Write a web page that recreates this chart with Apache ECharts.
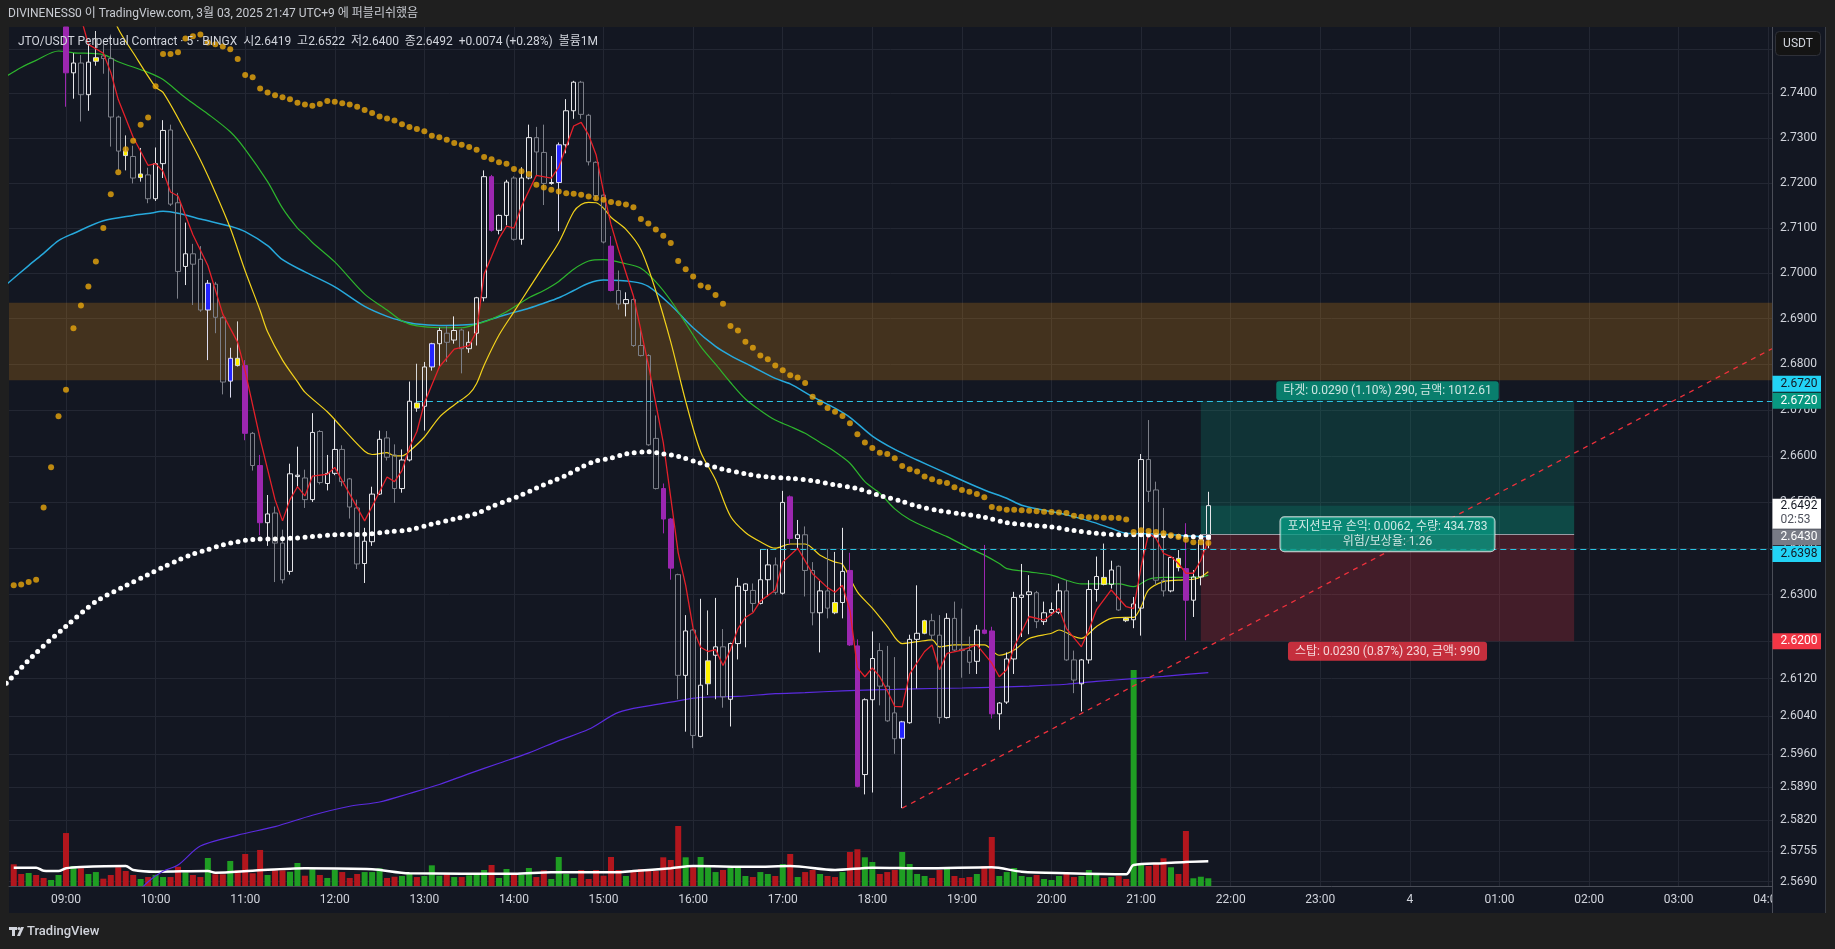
<!DOCTYPE html>
<html><head><meta charset="utf-8">
<script src="https://cdn.jsdelivr.net/npm/echarts@6/dist/echarts.min.js"></script>
<style>html,body{margin:0;padding:0;background:#1f1f1f;}#c{width:1835px;height:949px;}</style>
</head><body><div id="c"></div>
<script>
// ---------- DATA (5-minute candles, k = index from 09:00; first candle k=-7 = 08:25) ----------
const firstK = -7;
const open = [2.7850,2.7780,2.7720,2.7760,2.7700,2.7650,2.7680,
2.7700,2.7446,2.7468,2.7397,2.7472,2.7484,2.7478,2.7347,2.7271,2.7259,
2.7212,2.7218,2.7165,2.7243,2.7318,2.7156,2.7015,2.7043,2.7031,2.6919,
2.6976,2.6902,2.6763,2.6813,2.6797,2.6649,2.6579,2.6455,2.6476,2.6411,
2.6350,2.6555,2.6552,2.6505,2.6653,2.6540,2.6562,2.6614,2.6550,2.6487,
2.6367,2.6414,2.6517,2.6639,2.6602,2.6529,2.6591,2.6715,2.6708,2.6794,
2.6845,2.6868,2.6853,2.6875,2.6834,2.6868,2.6946,2.7214,2.7095,2.7128,
2.7211,2.7075,2.7211,2.7301,2.7268,2.7199,2.7201,2.7285,2.7361,2.7425,
2.7351,2.7246,2.7173,2.7060,2.6962,2.6933,2.6942,2.6841,2.6819,2.6638,
2.6529,2.6463,2.6343,2.6127,2.6224,2.5997,2.6109,2.6170,2.6188,2.6076,
2.6195,2.6309,2.6309,2.6281,2.6332,2.6364,2.6303,2.6511,2.6421,2.6429,
2.6352,2.6261,2.6308,2.6283,2.6283,2.6352,2.6190,2.5916,2.6075,2.6180,
2.6104,2.6047,2.5993,2.6026,2.6204,2.6217,2.6244,2.6213,2.6037,2.6249,
2.6183,2.6180,2.6157,2.6224,2.6222,2.6045,2.6070,2.6162,2.6294,2.6300,
2.6304,2.6242,2.6261,2.6262,2.6308,2.6160,2.6109,2.6160,2.6311,2.6337,
2.6322,2.6361,2.6249,2.6246,2.6271,2.6592,2.6526,2.6331,2.6308,2.6378,
2.6356,2.6288,2.6338,2.6419];
const high = [2.7880,2.7810,2.7790,2.7780,2.7720,2.7700,2.7740,
2.7720,2.7490,2.7486,2.7510,2.7540,2.7520,2.7532,2.7350,2.7306,2.7283,
2.7278,2.7234,2.7279,2.7340,2.7330,2.7178,2.7112,2.7065,2.7060,2.6985,
2.6981,2.6905,2.6836,2.6894,2.6809,2.6652,2.6602,2.6515,2.6490,2.6440,
2.6583,2.6620,2.6570,2.6693,2.6656,2.6602,2.6678,2.6623,2.6552,2.6505,
2.6444,2.6533,2.6655,2.6654,2.6625,2.6614,2.6762,2.6801,2.6805,2.6847,
2.6880,2.6883,2.6905,2.6878,2.6872,2.6948,2.7228,2.7218,2.7130,2.7207,
2.7215,2.7235,2.7330,2.7325,2.7330,2.7260,2.7290,2.7387,2.7428,2.7428,
2.7354,2.7248,2.7176,2.7082,2.7006,2.6958,2.6945,2.6875,2.6822,2.6688,
2.6540,2.6465,2.6345,2.6256,2.6226,2.6291,2.6266,2.6293,2.6226,2.6197,
2.6336,2.6324,2.6324,2.6398,2.6398,2.6380,2.6524,2.6514,2.6461,2.6447,
2.6370,2.6330,2.6398,2.6392,2.6444,2.6390,2.6204,2.6078,2.6221,2.6196,
2.6190,2.6166,2.6030,2.6214,2.6320,2.6246,2.6259,2.6256,2.6260,2.6285,
2.6270,2.6210,2.6235,2.6407,2.6231,2.6070,2.6176,2.6306,2.6366,2.6342,
2.6308,2.6285,2.6283,2.6324,2.6331,2.6180,2.6162,2.6331,2.6382,2.6410,
2.6373,2.6363,2.6251,2.6295,2.6604,2.6678,2.6544,2.6487,2.6382,2.6396,
2.6454,2.6353,2.6430,2.6522];
const low = [2.7760,2.7700,2.7690,2.7680,2.7630,2.7620,2.7650,
2.7370,2.7388,2.7337,2.7361,2.7462,2.7444,2.7281,2.7228,2.7228,2.7199,
2.7203,2.7155,2.7160,2.7211,2.7149,2.6944,2.6974,2.6930,2.6915,2.6809,
2.6868,2.6734,2.6727,2.6795,2.6634,2.6568,2.6428,2.6405,2.6327,2.6324,
2.6343,2.6533,2.6487,2.6500,2.6538,2.6525,2.6558,2.6534,2.6464,2.6355,
2.6325,2.6405,2.6515,2.6590,2.6498,2.6520,2.6588,2.6696,2.6655,2.6786,
2.6794,2.6805,2.6845,2.6780,2.6825,2.6841,2.6938,2.7092,2.7086,2.7106,
2.7072,2.7063,2.7208,2.7215,2.7151,2.7196,2.7093,2.7266,2.7343,2.7343,
2.7239,2.7162,2.7066,2.6960,2.6920,2.6905,2.6838,2.6817,2.6622,2.6527,
2.6432,2.6332,2.6076,2.6007,2.5972,2.5995,2.6085,2.6076,2.6058,2.6018,
2.6161,2.6187,2.6263,2.6279,2.6296,2.6300,2.6300,2.6409,2.6398,2.6296,
2.6234,2.6176,2.6249,2.6258,2.6249,2.6190,2.5889,2.5874,2.5878,2.6063,
2.6028,2.5960,2.5845,2.6024,2.6099,2.6215,2.6202,2.6024,2.6035,2.6179,
2.6122,2.6130,2.6130,2.6215,2.6035,2.6011,2.6066,2.6130,2.6209,2.6215,
2.6228,2.6235,2.6255,2.6258,2.6158,2.6089,2.6050,2.6152,2.6285,2.6320,
2.6313,2.6265,2.6241,2.6228,2.6212,2.6500,2.6321,2.6296,2.6305,2.6350,
2.6202,2.6252,2.6320,2.6400];
const close = [2.7780,2.7720,2.7760,2.7700,2.7650,2.7680,2.7710,
2.7446,2.7468,2.7397,2.7470,2.7480,2.7478,2.7347,2.7271,2.7261,2.7211,
2.7220,2.7165,2.7243,2.7317,2.7153,2.7004,2.7043,2.7020,2.6919,2.6978,
2.6903,2.6761,2.6813,2.6797,2.6649,2.6579,2.6455,2.6474,2.6411,2.6332,
2.6561,2.6558,2.6505,2.6651,2.6542,2.6562,2.6614,2.6544,2.6489,2.6366,
2.6415,2.6517,2.6636,2.6597,2.6529,2.6591,2.6719,2.6704,2.6794,2.6845,
2.6874,2.6848,2.6874,2.6834,2.6848,2.6946,2.7214,2.7095,2.7128,2.7202,
2.7075,2.7211,2.7301,2.7269,2.7199,2.7201,2.7285,2.7361,2.7425,2.7353,
2.7247,2.7172,2.7069,2.6962,2.6932,2.6942,2.6841,2.6819,2.6624,2.6529,
2.6463,2.6357,2.6127,2.6222,2.5999,2.6106,2.6158,2.6188,2.6081,2.6195,
2.6318,2.6323,2.6281,2.6332,2.6364,2.6305,2.6499,2.6421,2.6429,2.6352,
2.6261,2.6308,2.6271,2.6261,2.6350,2.6192,2.5891,2.6075,2.6163,2.6104,
2.6030,2.5992,2.6028,2.6204,2.6217,2.6244,2.6213,2.6037,2.6249,2.6181,
2.6180,2.6155,2.6224,2.6217,2.6045,2.6068,2.6162,2.6294,2.6299,2.6306,
2.6242,2.6261,2.6268,2.6308,2.6160,2.6117,2.6160,2.6311,2.6339,2.6322,
2.6353,2.6267,2.6244,2.6280,2.6592,2.6523,2.6331,2.6308,2.6380,2.6358,
2.6288,2.6338,2.6418,2.6492];
// volume, millions
const volume = [2.78,1.54,1.67,1.41,1.03,0.77,1.41,
6.79,2.56,2.27,1.54,1.79,0.94,1.41,2.40,1.92,1.41,
0.90,1.15,1.41,1.15,1.15,2.47,1.76,1.41,1.15,3.59,
1.50,1.50,3.21,2.01,4.10,1.63,4.62,1.41,2.01,2.01,
1.83,2.95,1.32,2.14,1.41,1.03,2.05,1.79,1.03,1.54,
1.79,1.79,2.27,1.03,1.19,1.28,1.58,1.15,1.28,2.65,
1.32,1.50,1.15,1.15,1.37,1.41,2.05,2.69,1.03,2.18,
1.41,1.41,2.31,1.15,2.01,0.90,3.72,1.54,1.03,2.05,
0.90,2.05,1.32,3.72,2.05,1.28,1.79,2.18,2.18,1.92,
3.68,3.33,7.69,3.68,2.40,3.72,2.40,1.79,2.05,2.31,
2.56,1.28,1.15,1.79,1.54,1.28,2.82,4.10,1.15,1.79,
2.05,1.54,1.28,1.15,1.79,4.36,4.71,3.68,3.08,1.54,
1.79,2.05,4.36,2.82,1.54,1.28,1.03,2.05,2.31,1.28,
1.03,1.15,1.54,2.56,6.28,1.28,1.79,2.31,1.28,1.15,
1.41,0.90,0.77,1.28,1.79,1.15,1.28,2.05,1.54,1.03,
1.15,1.28,0.90,27.69,2.91,2.56,2.91,3.55,2.40,1.54,
7.05,0.99,1.19,0.99];
// candles highlighted by the volume-colouring script (k values)
const purpleK = [0,24,26,57,73,80,81,97,105,106,123,124,150];
const blueK = [19,22,49,66,112];
const yellowK = [4,8,10,23,47,86,103,115,139,142,149];
// one gold dot per candle
const goldDots = [2.6320,2.6322,2.6327,2.6332,2.6488,2.6575,2.6686,
2.6744,2.6879,2.6929,2.6971,2.7026,2.7100,2.7175,2.7224,2.7275,2.7294,
2.7330,2.7346,2.7416,2.7488,2.7488,2.7492,2.7523,2.7528,2.7532,2.7514,
2.7510,2.7505,2.7499,2.7477,2.7441,2.7436,2.7411,2.7402,2.7396,2.7391,
2.7387,2.7379,2.7375,2.7372,2.7376,2.7383,2.7381,2.7378,2.7375,2.7370,
2.7363,2.7356,2.7348,2.7344,2.7339,2.7331,2.7325,2.7320,2.7315,2.7305,
2.7302,2.7296,2.7289,2.7285,2.7280,2.7274,2.7258,2.7253,2.7246,2.7243,
2.7231,2.7226,2.7220,2.7196,2.7190,2.7185,2.7181,2.7177,2.7176,2.7174,
2.7170,2.7166,2.7163,2.7158,2.7155,2.7152,2.7146,2.7120,2.7110,2.7097,
2.7083,2.7067,2.7027,2.7009,2.6993,2.6973,2.6969,2.6952,2.6933,2.6884,
2.6874,2.6849,2.6836,2.6819,2.6811,2.6797,2.6787,2.6776,2.6771,2.6759,
2.6729,2.6716,2.6704,2.6696,2.6687,2.6671,2.6647,2.6629,2.6617,2.6607,
2.6604,2.6595,2.6578,2.6571,2.6566,2.6555,2.6549,2.6544,2.6541,2.6532,
2.6526,2.6522,2.6517,2.6510,2.6489,2.6486,2.6483,2.6483,2.6482,2.6481,
2.6480,2.6479,2.6478,2.6477,2.6476,2.6470,2.6468,2.6467,2.6467,2.6466,
2.6466,2.6465,2.6462,2.6435,2.6439,2.6437,2.6435,2.6432,2.6428,2.6424,
2.6418,2.6413,2.6413,2.6411];
// moving-average lines read at sample candles: [k, price]
const maRed = [[-7,2.790],[-3,2.775],[0,2.768],[2,2.757],[3,2.751],[5,2.749],[6,2.7447],[7,2.7386],[9,2.7302],[11,2.7239],[12,2.7243],[13,2.7226],[14,2.718],[15,2.7171],[17,2.7085],[19,2.7017],[21,2.6910],[23,2.6848],[24,2.6785],[26,2.6637],[28,2.6505],[29,2.6459],[30,2.6505],[31,2.6533],[32,2.6513],[33,2.6556],[35,2.6560],[36,2.6575],[38,2.6517],[40,2.6459],[41,2.6490],[43,2.6554],[44,2.6544],[45,2.6568],[46,2.6618],[47,2.6653],[48,2.6715],[50,2.6794],[52,2.6833],[54,2.6841],[55,2.6872],[56,2.6998],[57,2.7037],[58,2.7077],[59,2.7104],[60,2.7100],[61,2.7148],[63,2.7217],[65,2.7211],[66,2.7235],[68,2.7327],[69,2.7335],[70,2.7307],[71,2.7263],[72,2.7180],[73,2.7108],[74,2.7052],[76,2.6950],[78,2.6799],[80,2.6629],[82,2.6390],[83,2.6320],[84,2.6227],[85,2.6187],[86,2.6178],[87,2.6182],[88,2.6148],[89,2.6182],[90,2.6227],[91,2.6251],[92,2.6261],[93,2.6286],[95,2.6310],[96,2.6370],[98,2.6400],[100,2.6345],[102,2.6315],[103,2.6305],[104,2.6320],[105,2.6266],[106,2.6143],[107,2.6124],[108,2.6143],[109,2.6124],[110,2.6094],[111,2.6061],[112,2.6060],[113,2.6130],[115,2.6178],[116,2.6192],[117,2.6139],[118,2.6174],[120,2.6181],[122,2.6192],[124,2.6153],[125,2.6124],[126,2.6139],[127,2.6188],[129,2.6253],[131,2.6245],[133,2.6270],[134,2.6227],[136,2.6188],[137,2.6224],[138,2.6267],[140,2.6310],[142,2.6274],[143,2.6270],[144,2.6360],[145,2.6432],[146,2.6421],[147,2.6389],[148,2.6382],[149,2.6367],[150,2.6346],[151,2.6346],[152,2.6374],[153,2.6417]];
const maYellow = [[0,2.780],[7,2.7545],[9,2.7491],[12,2.7414],[13,2.7402],[16,2.7314],[18,2.7251],[20,2.7179],[22,2.7100],[24,2.7005],[26,2.6918],[27,2.6871],[29,2.6809],[31,2.6762],[32,2.6739],[35,2.6696],[37,2.6661],[40,2.6610],[41,2.6603],[43,2.6607],[44,2.6600],[45,2.6600],[46,2.6610],[48,2.6641],[50,2.6684],[52,2.6711],[54,2.6735],[55,2.6758],[56,2.6798],[58,2.6864],[60,2.6915],[62,2.6966],[64,2.7017],[66,2.7068],[68,2.7136],[69,2.7152],[70,2.7157],[71,2.7156],[72,2.7144],[73,2.7124],[75,2.7097],[77,2.7052],[79,2.6961],[81,2.6849],[83,2.6719],[85,2.6609],[87,2.6548],[89,2.6469],[91,2.6434],[93,2.6414],[95,2.6400],[97,2.6409],[99,2.6409],[101,2.6385],[103,2.6370],[104,2.6365],[106,2.6306],[108,2.6271],[110,2.6232],[112,2.6195],[114,2.6199],[116,2.6203],[117,2.6188],[119,2.6192],[122,2.6192],[123,2.6192],[125,2.6170],[127,2.6181],[129,2.6206],[132,2.6217],[133,2.6224],[135,2.6210],[136,2.6206],[138,2.6231],[140,2.6249],[142,2.6251],[143,2.6251],[144,2.6274],[145,2.6310],[147,2.6328],[149,2.6331],[151,2.6333],[152,2.6338],[153,2.6349]];
const maGreen = [[-8,2.7438],[-6,2.7458],[-4,2.7474],[-1,2.7495],[1,2.7491],[5,2.7487],[7,2.7471],[11,2.7447],[13,2.7431],[16,2.7390],[19,2.7354],[22,2.7314],[24,2.7275],[27,2.7203],[29,2.7144],[31,2.7100],[32,2.7085],[33,2.7068],[36,2.7025],[40,2.6954],[43,2.6919],[45,2.6895],[47,2.6884],[50,2.6880],[53,2.6880],[55,2.6888],[57,2.6899],[59,2.6915],[62,2.6946],[64,2.6962],[66,2.6982],[68,2.7009],[70,2.7027],[72,2.7030],[75,2.7021],[77,2.7011],[79,2.6981],[81,2.6940],[83,2.6890],[85,2.6839],[87,2.6800],[89,2.6760],[91,2.6724],[93,2.6699],[95,2.6678],[97,2.6664],[99,2.6649],[101,2.6629],[103,2.6609],[105,2.6584],[107,2.6544],[109,2.6519],[111,2.6485],[113,2.6462],[116,2.6439],[118,2.6425],[121,2.6400],[123,2.6385],[125,2.6367],[126,2.6356],[129,2.6349],[132,2.6342],[134,2.6331],[136,2.6323],[138,2.6323],[141,2.6323],[143,2.6317],[145,2.6333],[147,2.6337],[150,2.6337],[152,2.6338],[153,2.6342]];
const maCyan = [[-8,2.6975],[-5,2.7017],[-3,2.7044],[-1,2.7072],[1,2.7088],[5,2.7116],[9,2.7128],[11,2.7132],[13,2.7137],[15,2.7133],[18,2.7120],[22,2.7104],[24,2.7092],[27,2.7061],[29,2.7030],[32,2.7003],[36,2.6970],[40,2.6927],[43,2.6905],[45,2.6895],[47,2.6888],[50,2.6885],[53,2.6886],[55,2.6889],[57,2.6899],[59,2.6909],[62,2.6923],[64,2.6934],[66,2.6946],[68,2.6962],[70,2.6978],[72,2.6985],[76,2.6981],[78,2.6971],[81,2.6930],[84,2.6880],[87,2.6839],[89,2.6819],[92,2.6794],[95,2.6769],[97,2.6757],[100,2.6729],[103,2.6704],[105,2.6684],[108,2.6643],[111,2.6614],[114,2.6591],[117,2.6569],[120,2.6547],[123,2.6526],[126,2.6508],[128,2.6493],[131,2.6482],[134,2.6472],[137,2.6459],[140,2.6443],[142,2.6432],[145,2.6431],[148,2.6429],[151,2.6426],[153,2.6425]];
const maWhiteDots = [[-8,2.6110],[-4,2.6175],[0,2.6232],[4,2.6285],[8,2.6319],[11,2.6343],[13,2.6359],[15,2.6374],[17,2.6387],[19,2.6397],[21,2.6407],[23,2.6414],[25,2.6419],[28,2.6420],[31,2.6422],[33,2.6425],[36,2.6429],[40,2.6430],[43,2.6435],[46,2.6440],[49,2.6452],[52,2.6463],[55,2.6475],[57,2.6490],[59,2.6502],[61,2.6515],[63,2.6530],[65,2.6544],[67,2.6558],[69,2.6575],[71,2.6589],[73,2.6595],[75,2.6604],[78,2.6609],[80,2.6604],[82,2.6599],[85,2.6584],[88,2.6571],[91,2.6561],[94,2.6554],[97,2.6551],[100,2.6546],[103,2.6537],[106,2.6529],[109,2.6514],[112,2.6501],[114,2.6491],[117,2.6481],[120,2.6474],[123,2.6467],[126,2.6455],[129,2.6450],[132,2.6446],[135,2.6438],[138,2.6432],[141,2.6429],[144,2.6429],[147,2.6427],[150,2.6425],[153,2.6424]];
const maPurple = [[8,2.5640],[11,2.5690],[13,2.5712],[15,2.5725],[18,2.5765],[23,2.5788],[28,2.5806],[33,2.5830],[38,2.5849],[42,2.5858],[46,2.5876],[50,2.5895],[54,2.5918],[58,2.5940],[62,2.5962],[66,2.5988],[70,2.6012],[74,2.6048],[78,2.6062],[81,2.6070],[85,2.6080],[90,2.6082],[95,2.6088],[99,2.6090],[104,2.6094],[108,2.6096],[111,2.6097],[116,2.6099],[120,2.6100],[125,2.6102],[129,2.6104],[134,2.6108],[138,2.6114],[143,2.6120],[147,2.6125],[150,2.6129],[153,2.6133]];
const volMA = [[-7,2.35],[-4,2.35],[-3,1.96],[-1,1.92],[0,2.27],[2,2.44],[8,2.56],[9,2.05],[12,1.83],[19,1.92],[20,1.71],[25,1.96],[32,2.27],[41,2.14],[46,1.63],[60,1.58],[65,1.76],[74,1.76],[76,1.92],[81,2.27],[84,2.56],[92,2.47],[97,2.56],[103,2.05],[108,2.35],[115,2.27],[124,2.40],[128,1.83],[134,1.63],[142,1.50],[143,2.69],[147,2.91],[150,3.08],[153,3.17]];
// axis ticks
const priceTicks = [2.75,2.74,2.73,2.72,2.71,2.70,2.69,2.68,2.67,2.66,2.65,2.64,2.63,2.62,2.612,2.604,2.596,2.589,2.582,2.5755,2.569];
const hourTicks = [0,12,24,36,48,60,72,84,96,108,120,132,144,156,168,180,192,204,216,228];
// drawings
const zone = [2.6765, 2.6935];
const targetRay = {k:47, price:2.6720};
const levelRay = {k:93, price:2.6398};
const trend = [[112,2.5845],[228.5,2.6834]];
const pos = {startK:152, endK:202, entry:2.6430, target:2.6720, stop:2.6200};
const posText = {
  target:'타겟: 0.0290 (1.10%) 290, 금액: 1012.61',
  mid:'포지션보유 손익: 0.0062, 수량: 434.783\n위험/보상율: 1.26',
  stop:'스탑: 0.0230 (0.87%) 230, 금액: 990'
};
const countdown = '02:53';
const headerText = 'DIVINENESS0 이 TradingView.com, 3월 03, 2025 21:47 UTC+9 에 퍼블리쉬했음';
const symbolText = 'JTO/USDT Perpetual Contract · 5 · BINGX';

// ---------- CHART ----------
const FONT = 'Roboto, "Noto Sans CJK KR", sans-serif';
const XMIN = -7.634, XMAX = 228.5, YMIN = 2.5681, YMAX = 2.7549;
const GRIDC = '#232733';
const UPC = '#e6e6ea', DNC = '#7c7f88';
const N = open.length;
const last = N - 1;
const clampY = v => Math.min(Math.max(v, YMIN), YMAX); // candlestick is not clipped by the grid: clamp to the pane

const candleData = [];
open.forEach((o, i) => {
  const k = i + firstK;
  if (low[i] > YMAX) return; // candles entirely above the visible price range
  const up = close[i] >= o;
  let fill = 'rgba(0,0,0,0)', border = up ? UPC : DNC;
  if (purpleK.includes(k)) { fill = '#9c27b0'; border = '#9c27b0'; }
  else if (blueK.includes(k)) { fill = '#2424ff'; border = '#dcdcf0'; }
  else if (yellowK.includes(k)) { fill = '#fff200'; border = '#d8d8d8'; }
  candleData.push({ value: [k, clampY(o), clampY(close[i]), clampY(low[i]), clampY(high[i])],
    itemStyle: { color: fill, color0: fill, borderColor: border, borderColor0: border, borderWidth: 1 } });
});
const volData = volume.map((v, i) => ({ value: [i + firstK, v],
  itemStyle: { color: close[i] >= open[i] ? '#1f9e23' : '#b3161d' } }));
const goldData = goldDots.map((v, i) => [i + firstK, v]);

const fmtHour = v => { const h = (9 + Math.round(v / 12)) % 24; return h === 0 ? '4' : String(h).padStart(2, '0') + ':00'; };
const f4 = v => Number(v).toFixed(4);

const chg = close[last] - close[last - 1];
const sgn = chg >= 0 ? '+' : '';
const legendText = symbolText + '  시' + f4(open[last]) + '  고' + f4(high[last]) + '  저' + f4(low[last]) +
  '  종' + f4(close[last]) + '  ' + sgn + f4(chg) + ' (' + sgn + (chg / close[last - 1] * 100).toFixed(2) + '%)  볼륨' +
  Math.round(volume[last]) + 'M';

const lineS = (data, color, width, z, smooth) => ({ type: 'line', data, showSymbol: false, symbol: 'none', z,
  smooth: smooth || 0, lineStyle: { color, width }, silent: true, clip: true });

const option = {
  backgroundColor: '#1f1f1f',
  animation: false,
  grid: [
    { left: 9, right: 63, top: 27, bottom: 63 },
    { left: 9, right: 63, top: 652, bottom: 63 }
  ],
  xAxis: [
    { type: 'value', gridIndex: 0, min: XMIN, max: XMAX,
      axisLine: { show: true, onZero: false, lineStyle: { color: '#4a4d57' } },
      axisTick: { show: false, customValues: hourTicks },
      axisLabel: { customValues: hourTicks, formatter: fmtHour, color: '#d1d4dc', fontSize: 12, fontFamily: FONT, margin: 8 },
      splitLine: { show: true, lineStyle: { color: GRIDC, width: 1 } } },
    { type: 'value', gridIndex: 1, min: XMIN, max: XMAX, show: false, axisLine: { show: false, onZero: false }, splitLine: { show: false } }
  ],
  yAxis: [
    { type: 'log', logBase: Math.E, gridIndex: 0, position: 'right', min: YMIN, max: YMAX,
      axisLine: { show: false, onZero: false },
      axisTick: { show: false, customValues: priceTicks },
      axisLabel: { customValues: priceTicks, formatter: f4, color: '#d1d4dc', fontSize: 12, fontFamily: FONT, margin: 8 },
      splitLine: { show: true, lineStyle: { color: GRIDC, width: 1 } } },
    { type: 'value', gridIndex: 1, min: 0, max: 30, show: false, axisLine: { show: false, onZero: false }, splitLine: { show: false } }
  ],
  series: [
    { type: 'bar', xAxisIndex: 1, yAxisIndex: 1, data: volData, barWidth: 6, z: 1, silent: true },
    Object.assign(lineS(volMA, '#ffffff', 2.5, 1.5, 0.3), { xAxisIndex: 1, yAxisIndex: 1 }),
    { type: 'line', data: [], z: 1, silent: true,
      markArea: { silent: true, z: 1, data: [
        [{ coord: [XMIN, zone[0]], itemStyle: { color: 'rgba(240,150,20,0.22)' } }, { coord: [XMAX, zone[1]] }],
        [{ coord: [pos.startK, pos.entry], itemStyle: { color: 'rgba(8,153,129,0.22)' } }, { coord: [pos.endK, pos.target] }],
        [{ coord: [pos.startK, pos.entry], itemStyle: { color: 'rgba(8,153,129,0.22)' } }, { coord: [pos.endK, close[last]] }],
        [{ coord: [pos.startK, pos.stop], itemStyle: { color: 'rgba(242,54,69,0.22)' } }, { coord: [pos.endK, pos.entry] }]
      ] } },
    lineS(maPurple, '#5b2be0', 1.2, 3, 0.3),
    lineS(maCyan, '#27a9dc', 1.5, 3, 0.3),
    lineS(maGreen, '#2db52d', 1.2, 3, 0.3),
    lineS(maYellow, '#f2d21b', 1.2, 3, 0.3),
    { type: 'candlestick', data: candleData, barWidth: 5, z: 4, silent: true, clip: true },
    lineS(maRed, '#e5202a', 1.3, 5, 0),
    { type: 'line', data: maWhiteDots, showSymbol: false, symbol: 'none', z: 6, smooth: 0.3, silent: true,
      lineStyle: { color: '#ffffff', width: 5, type: [0, 7.47], cap: 'round' } },
    { type: 'scatter', data: goldData, symbolSize: 6, z: 6, silent: true, itemStyle: { color: '#e8a60c' } },
    { type: 'line', data: [], z: 7, silent: true,
      markLine: { silent: true, z: 8, symbol: ['none', 'none'], animation: false, label: { show: false }, data: [
        [{ coord: [targetRay.k, targetRay.price], lineStyle: { color: '#2cc3e3', width: 1, type: [6, 4] } }, { coord: [XMAX, targetRay.price] }],
        [{ coord: [levelRay.k, levelRay.price], lineStyle: { color: '#2cc3e3', width: 1, type: [6, 4] } }, { coord: [XMAX, levelRay.price] }],
        [{ coord: trend[0], lineStyle: { color: '#f0313c', width: 1.3, type: [5, 5] } }, { coord: trend[1] }],
        [{ coord: [pos.startK, pos.entry], lineStyle: { color: '#9a9ca4', width: 1, type: 'solid' } }, { coord: [pos.endK, pos.entry] }]
      ] } },
    { type: 'scatter', z: 10, silent: true, symbolSize: 1, itemStyle: { color: 'rgba(0,0,0,0)' },
      data: [
        { value: [(pos.startK + pos.endK) / 2, pos.target],
          label: { show: true, position: 'top', distance: 0, formatter: posText.target, backgroundColor: '#089981',
            color: '#ffffff', fontSize: 12, fontFamily: FONT, lineHeight: 14, padding: [3, 7, 2, 7], borderRadius: 3 } },
        { value: [(pos.startK + pos.endK) / 2, pos.entry],
          label: { show: true, position: 'inside', formatter: posText.mid, backgroundColor: '#089981', borderColor: '#ffffff',
            borderWidth: 1, color: '#ffffff', fontSize: 12, fontFamily: FONT, lineHeight: 15, padding: [2, 7, 2, 7], borderRadius: 4, align: 'center' } },
        { value: [(pos.startK + pos.endK) / 2, pos.stop],
          label: { show: true, position: 'bottom', distance: 0, formatter: posText.stop, backgroundColor: '#f23645',
            color: '#ffffff', fontSize: 12, fontFamily: FONT, lineHeight: 14, padding: [3, 7, 2, 7], borderRadius: 3 } }
      ] }
  ]
};
const chart = echarts.init(document.getElementById('c'), null, { renderer: 'canvas', width: 1835, height: 949 });
chart.setOption(option);

// price-scale tags, placed through the chart's own y scale
const yPix = v => chart.convertToPixel({ yAxisIndex: 0 }, v);
const tags = [
  { v: targetRay.price, bg: '#22d3f5', fg: '#131722', dy: -17 },
  { v: pos.target, bg: '#089981', fg: '#ffffff', dy: 0 },
  { v: pos.entry, bg: '#787b86', fg: '#ffffff', dy: 3 },
  { v: levelRay.price, bg: '#22d3f5', fg: '#131722', dy: 5 },
  { v: pos.stop, bg: '#f23645', fg: '#ffffff', dy: 0 }
];
const TAGX = 1772.5, TAGW = 48.5;
const g = [
  { type: 'rect', z: -100, shape: { x: 9, y: 27, width: 1816, height: 886 }, style: { fill: '#131722' } },
  { type: 'text', z: 100, style: { text: headerText, x: 8, y: 14, verticalAlign: 'middle', fill: '#c9ccd3', font: '12px ' + FONT } },
  { type: 'text', z: 100, style: { text: legendText, x: 18, y: 42, verticalAlign: 'middle', fill: '#d1d4dc', font: '12px ' + FONT } },
  { type: 'rect', z: 100, shape: { x: 1773, y: 887, width: 52, height: 26 }, style: { fill: '#131722' } },
  { type: 'line', z: 101, shape: { x1: 1772.5, y1: 27, x2: 1772.5, y2: 913 }, style: { stroke: '#4a4d57', lineWidth: 1 } },
  { type: 'line', z: 101, shape: { x1: 1825.5, y1: 27, x2: 1825.5, y2: 913 }, style: { stroke: '#3a3d45', lineWidth: 1 } },
  { type: 'rect', z: 100, shape: { x: 1775.5, y: 31.5, width: 45, height: 24, r: 4 }, style: { fill: '#141414', stroke: '#2e3038', lineWidth: 1 } },
  { type: 'text', z: 101, style: { text: 'USDT', x: 1798, y: 43.5, align: 'center', verticalAlign: 'middle', fill: '#d1d4dc', font: '12px ' + FONT } },
  { type: 'rect', z: 100, shape: { x: 9, y: 927, width: 8, height: 3 }, style: { fill: '#d1d4dc' } },
  { type: 'rect', z: 100, shape: { x: 12, y: 927, width: 3, height: 9 }, style: { fill: '#d1d4dc' } },
  { type: 'circle', z: 100, shape: { cx: 19, cy: 928.5, r: 1.6 }, style: { fill: '#d1d4dc' } },
  { type: 'polygon', z: 100, shape: { points: [[17, 936], [21, 927], [24, 927], [20, 936]] }, style: { fill: '#d1d4dc' } },
  { type: 'text', z: 100, style: { text: 'TradingView', x: 27, y: 932, verticalAlign: 'middle', fill: '#d1d4dc', font: '500 13px ' + FONT } }
];
tags.forEach(t => {
  const cy = yPix(t.v) + t.dy;
  g.push({ type: 'rect', z: 110, shape: { x: TAGX, y: cy - 8, width: TAGW, height: 16 }, style: { fill: t.bg } });
  g.push({ type: 'text', z: 111, style: { text: f4(t.v), x: TAGX + 8, y: cy, verticalAlign: 'middle', fill: t.fg, font: '12px ' + FONT } });
});
// last price + countdown
const cyLast = yPix(close[last]);
g.push({ type: 'rect', z: 110, shape: { x: TAGX, y: cyLast - 7, width: TAGW, height: 30 }, style: { fill: '#ffffff' } });
g.push({ type: 'text', z: 111, style: { text: f4(close[last]), x: TAGX + 8, y: cyLast, verticalAlign: 'middle', fill: '#131722', font: '12px ' + FONT } });
g.push({ type: 'text', z: 111, style: { text: countdown, x: TAGX + 8, y: cyLast + 14, verticalAlign: 'middle', fill: '#50535e', font: '12px ' + FONT } });
chart.setOption({ graphic: g });
</script>
</body></html>
